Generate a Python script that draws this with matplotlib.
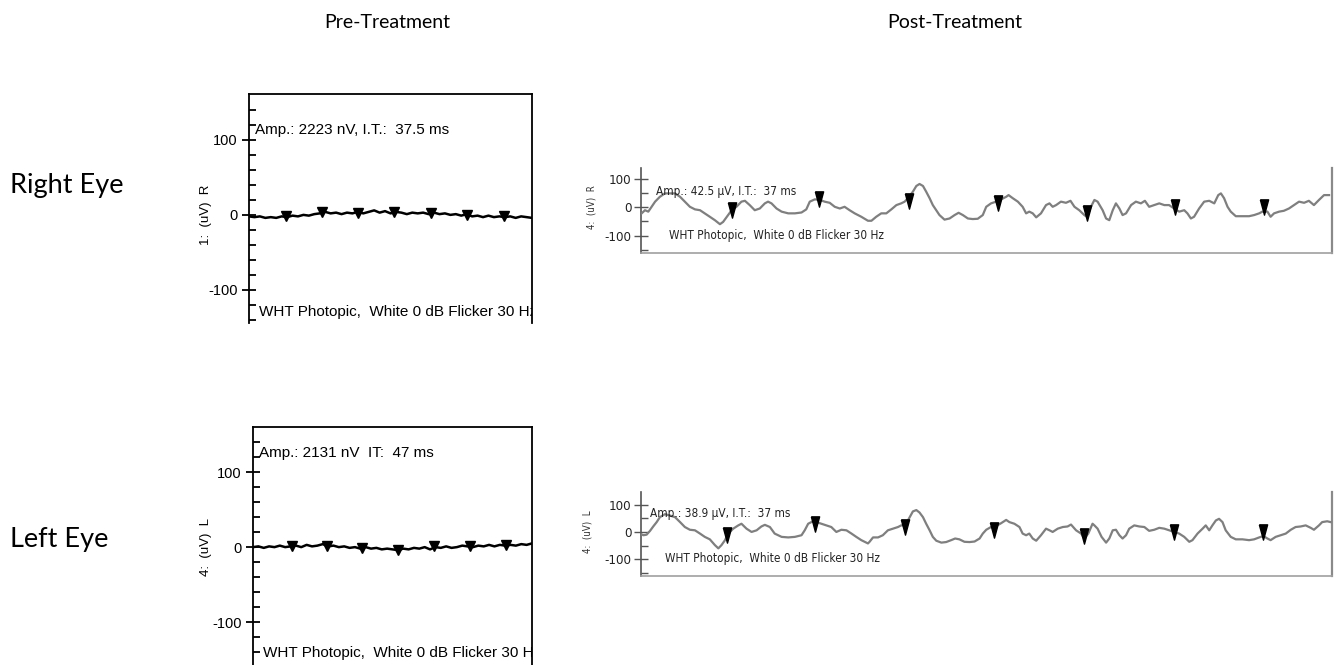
"""Flicker ERG traces, pre vs post treatment, right and left eye."""
import matplotlib
matplotlib.use("Agg")
import matplotlib.pyplot as plt
from matplotlib.ticker import FixedLocator

W_PX, H_PX = 1336, 665

plt.rcParams.update({
    "font.family": ["Liberation Sans", "DejaVu Sans"],
    "axes.linewidth": 1.2,
    "axes.unicode_minus": False,
})

_NARROW = ["DejaVu Sans"]
_TITLE  = ["Lato", "DejaVu Sans"]
_TRACE  = "#7f7f7f"

# ---- pre-treatment (values in uV, time in ms) ----
pre_ms = [0, 5, 10, 15, 20, 25, 30, 35, 40, 45, 50, 55, 60, 65, 70, 75, 80, 85,
          90, 95, 100, 105, 110, 115, 120, 125, 130, 135, 140, 145, 150, 155,
          160, 165, 170, 175, 180, 185, 190, 195, 200, 205, 210, 215, 220, 225,
          230, 235, 240, 245, 250, 255, 260]
pre_right_uv = [-2, -3, -2, -4, -3, -4, -2, -3, -1, -2, 0, -1, 1, 2, 4, 2, 3, 1,
                3, 2, 4, 2, 4, 6, 3, 5, 2, 4, 3, 1, 3, 2, 3, 1, 3, 1, 2, 0, 1,
                -1, 1, -2, -1, -3, -1, -3, -2, -3, -2, -4, -2, -3, -4]
pre_left_uv = [0, 1, -1, 1, 0, 2, 0, 1, 2, 0, 3, 1, 2, 4, 1, 2, 0, 1, -1, 0,
               -2, 0, -2, -1, -3, -2, -3, -4, -2, -3, -1, -2, 0, -3, 0, -1, 1,
               -1, 0, 2, 1, 0, 2, 1, 3, 1, 3, 2, 3, 2, 4, 3, 5]
pre_right_mk_ms = [34.0, 66.8, 100.4, 133.5, 166.9, 200.0, 234.3]
pre_right_mk_uv = [-1, 4, 3, 4, 3, 0, -2]
pre_left_mk_ms  = [36.0, 68.6, 101.9, 135.4, 169.0, 202.2, 235.8]
pre_left_mk_uv  = [1, 2, -1, -4, 1, 2, 3]

# ---- post-treatment ----
post_right_ms = [0.25, 1.5, 2.75, 4.0, 5.3, 7.1, 9.0, 10.9, 12.8, 14.7,
                 16.5, 18.4, 20.3, 22.2, 24.0, 25.9, 27.8, 29.7, 30.9, 32.8,
                 34.1, 35.9, 37.8, 39.1, 40.9, 42.8, 44.7, 46.6, 47.8, 49.1,
                 51.0, 52.9, 55.4, 57.9, 60.4, 62.2, 63.5, 65.4, 67.3, 69.1,
                 71.0, 72.9, 74.8, 76.6, 78.5, 80.4, 82.9, 85.4,
                 86.7, 88.5, 90.4, 92.3, 94.2, 96.1, 97.9, 99.2, 100.4, 102.3,
                 103.6, 104.8, 106.1, 107.3, 108.6, 109.8, 111.1, 112.3, 114.2, 116.1,
                 118.0, 119.5, 121.1, 123.0, 124.8, 126.7, 128.6, 129.9, 131.7, 133.6,
                 135.5, 137.4, 138.3, 139.9, 141.8, 143.6, 144.9, 146.1, 147.4, 148.7,
                 150.5, 152.4, 153.7, 154.9, 156.2, 158.0, 159.9, 161.6, 163.1, 164.9,
                 166.8, 167.8, 169.3,
                 170.6, 171.8, 173.7, 175.0, 176.2, 177.5, 178.7, 180.0, 181.2, 182.5,
                 184.4, 186.2, 188.1, 189.6, 191.2, 193.1, 195.0, 196.9, 198.7, 200.6,
                 202.5, 204.4, 205.6, 206.9, 208.1, 210.0, 211.9, 213.8, 215.7, 217.2,
                 218.2, 219.4, 220.7, 221.9, 223.8, 226.3, 228.8, 230.7, 232.6, 233.8,
                 235.7, 236.9, 238.2, 240.1, 241.9, 243.8, 245.7, 247.6, 249.5, 251.3,
                 253.2, 255.1, 257.0, 258.9]
post_right_uv = [-22, -11, -16, 1, 19, 36, 48, 48, 48, 36,
                 19, 1, -8, -11, -22, -34, -46, -60, -52, -28,
                 -11, 1, 19, 22, 7, -11, -5, 13, 19, 13,
                 -5, -16, -22, -22, -19, -8, 19, 27, 25, 19,
                 15, 1, -5, 1, -11, -22, -34, -48,
                 -48, -34, -22, -22, -8, 7, 13, 19, 31, 54,
                 74, 81, 74, 54, 31, 7, -11, -28, -44, -40,
                 -28, -20, -28, -40, -42, -41, -28, 1, 13, 19,
                 27, 36, 42, 31, 19, 1, -22, -16, -22, -36,
                 -22, 7, 13, 1, 7, 19, 15, 22, 1, -11,
                 -28, -34, 1,
                 25, 19, -11, -40, -46, -11, 13, -5, -28, -22,
                 7, 19, 13, 22, 1, 7, 13, 7, 7, -5,
                 -16, -11, -22, -40, -34, -5, 19, 22, 13, 42,
                 48, 31, 1, -16, -32, -32, -32, -28, -22, -16,
                 -16, -34, -22, -16, -13, -5, 7, 19, 15, 22,
                 7, 25, 42, 42]
post_right_mk_ms = [34.1, 67.0, 100.8, 134.2, 167.8, 201.0, 234.4]
post_right_mk_uv = [-11, 27, 22, 13, -20, 1, -1]

post_left_ms = [0, 0.9, 2.1, 3.4, 4.6, 5.9, 7.1, 9.0, 10.9, 12.8,
                14.7, 16.5, 18.4, 20.3, 22.2, 24.0, 25.9, 27.8, 29.1, 30.3,
                31.6, 32.8, 34.7, 36.6, 37.8, 39.7, 41.6, 43.5, 45.3, 46.6,
                48.5, 50.3, 52.9, 55.4, 57.9, 60.4, 61.6, 62.9, 64.7, 66.0,
                67.9, 69.8, 71.6, 73.5, 75.4, 77.3, 79.2, 81.0, 82.9, 85.4,
                86.0, 87.3, 89.2, 91.0, 92.9, 94.8, 96.7, 97.9, 99.4, 101.1,
                102.3, 103.6, 104.8, 106.1, 107.3, 108.6, 109.8, 111.1, 113.0, 114.8,
                116.7, 118.2, 119.8, 121.7, 123.6, 125.5, 127.4, 128.6, 129.9, 131.7,
                133.0, 135.5, 137.4, 138.6, 140.5, 142.4, 143.6, 144.9, 146.1, 147.4,
                148.7, 150.5, 152.4, 153.7, 154.9, 156.8, 158.7, 160.5, 161.8, 163.7,
                165.6, 166.8, 168.3, 169.9,
                170.6, 171.8, 173.3, 175.0, 176.2, 177.5, 178.7, 180.0, 181.2, 182.5,
                183.7, 185.6, 187.5, 189.4, 191.2, 193.1, 195.0, 196.9, 198.7, 200.6,
                202.5, 204.4, 206.3, 207.5, 209.4, 211.3, 212.5, 213.8, 215.0, 216.3,
                217.5, 218.8, 220.0, 221.9, 223.8, 226.3, 228.8, 230.7, 232.6, 234.2,
                235.7, 236.9, 238.8, 240.7, 242.6, 244.5, 246.3, 248.2, 250.1, 252.0,
                253.2, 255.1, 256.3, 258.2, 259.5]
post_left_uv = [-8, -12, -10, 4, 20, 36, 54, 65, 60, 54,
                36, 18, 8, 6, -6, -18, -27, -48, -60, -48,
                -30, -6, 12, 24, 30, 12, 0, 6, 20, 26,
                18, -6, -18, -20, -18, -12, 6, 30, 39, 36,
                30, 24, 18, 0, 8, 6, -6, -18, -30, -42,
                -36, -20, -20, -12, 6, 12, 18, 24, 24, 54,
                75, 80, 71, 54, 30, 6, -18, -32, -39, -37,
                -30, -24, -27, -36, -37, -35, -24, -6, 8, 18,
                18, 32, 44, 36, 30, 18, -6, -12, -6, -24,
                -32, -12, 12, 6, 0, 12, 18, 20, 27, 6,
                -6, -24, -6, 30,
                24, 12, -18, -39, -24, 6, 8, -12, -24, -12,
                12, 24, 20, 18, 4, 8, 15, 12, 6, 0,
                -6, -18, -36, -30, -6, 12, 24, 6, 24, 42,
                48, 36, 6, -18, -27, -27, -30, -27, -20, -15,
                -24, -30, -18, -12, -6, 8, 18, 20, 24, 15,
                8, 24, 36, 39, 36]
post_left_mk_ms = [32.2, 65.6, 99.4, 133.0, 166.8, 200.6, 234.2]
post_left_mk_uv = [-10, 30, 18, 8, -15, 0, 0]

# tall narrow down-pointing triangle used by the post-treatment recorder
_TALL_V = [(-0.27, 0.5), (0.27, 0.5), (0.0, -0.5), (-0.27, 0.5)]


def _box(left, top, right, bottom):
    return [left / W_PX, 1 - bottom / H_PX, (right - left) / W_PX, (bottom - top) / H_PX]


def _pre_axes(fig, box, ylim, t, uv, mk_t, mk_uv, amp, ylab, ylab_xy):
    ax = fig.add_axes(box)
    ax.plot(t, uv, color="black", lw=1.8, zorder=3)
    ax.plot(mk_t, mk_uv, ls="none", marker="v", ms=6.5, color="black", zorder=4)
    ax.set_xlim(0, 260)
    ax.set_ylim(*ylim)
    ax.spines["bottom"].set_visible(False)
    for s in ("top", "left", "right"):
        ax.spines[s].set_linewidth(1.3)
    ax.set_xticks([])
    ax.yaxis.set_major_locator(FixedLocator([-100, 0, 100]))
    ax.yaxis.set_minor_locator(FixedLocator([-140, -120, -80, -60, -40, -20,
                                             20, 40, 60, 80, 120, 140]))
    ax.tick_params(axis="y", which="major", direction="inout", length=10, width=1.3,
                   labelsize=10.5, pad=3)
    ax.tick_params(axis="y", which="minor", direction="in", length=5, width=1.3)
    ax.text(0.022, amp[1], amp[0], transform=ax.transAxes, fontsize=11,
            ha="left", va="center")
    ax.text(0.035, amp[2], "WHT Photopic,  White 0 dB Flicker 30 Hz",
            transform=ax.transAxes, fontsize=11, ha="left", va="center", clip_on=True)
    fig.text(ylab_xy[0] / W_PX, 1 - ylab_xy[1] / H_PX, ylab, rotation=90,
             ha="center", va="center", fontsize=9.5)
    return ax


def _post_axes(fig, box, ylim, t, uv, mk_t, mk_uv, amp, amp_xy, wht_xy, ylab, ylab_xy):
    ax = fig.add_axes(box)
    ax.plot(t, uv, color=_TRACE, lw=1.6, zorder=3)
    ax.plot(mk_t, mk_uv, ls="none", marker=_TALL_V, ms=11, color="black", zorder=4)
    ax.set_xlim(0, 260)
    ax.set_ylim(*ylim)
    ax.spines["top"].set_visible(False)
    ax.spines["left"].set_color("#555555")
    ax.spines["bottom"].set_color("#a0a0a0")
    ax.spines["right"].set_color("#8a8a8a")
    ax.spines["right"].set_linewidth(1.6)
    ax.set_xticks([])
    ax.yaxis.set_major_locator(FixedLocator([-100, 0, 100]))
    ax.yaxis.set_minor_locator(FixedLocator([-150, -50, 50]))
    ax.tick_params(axis="y", which="major", direction="inout", length=10, width=1.0,
                   color="#555555", labelsize=9.5, pad=2)
    ax.tick_params(axis="y", which="minor", direction="in", length=5, width=1.0,
                   color="#555555")
    for lab in ax.get_yticklabels():
        lab.set_family(_NARROW)
        lab.set_stretch("condensed")
        lab.set_color("#222222")
    ax.text(amp_xy[0], amp_xy[1], amp, transform=ax.transAxes, family=_NARROW,
            fontstretch="condensed", fontsize=8.5, ha="left", va="center",
            color="#222222")
    ax.text(wht_xy[0], wht_xy[1], "WHT Photopic,  White 0 dB Flicker 30 Hz",
            transform=ax.transAxes, family=_NARROW, fontstretch="condensed",
            fontsize=8.5, ha="left", va="center", color="#222222")
    fig.text(ylab_xy[0] / W_PX, 1 - ylab_xy[1] / H_PX, ylab, rotation=90,
             ha="center", va="center", fontsize=7, family=_NARROW,
             fontstretch="condensed", color="#333333")
    return ax


fig = plt.figure(figsize=(W_PX / 100, H_PX / 100), dpi=100)

_pre_axes(fig, _box(249, 94, 532, 323), (-144, 161), pre_ms, pre_right_uv,
          pre_right_mk_ms, pre_right_mk_uv,
          ("Amp.: 2223 nV, I.T.:  37.5 ms", 0.843, 0.048), "1:  (uV)  R", (206, 215))
_pre_axes(fig, _box(253, 427, 532, 665), (-157, 160), pre_ms, pre_left_uv,
          pre_left_mk_ms, pre_left_mk_uv,
          ("Amp.: 2131 nV  IT:  47 ms", 0.891, 0.05), "4:  (uV)  L", (206, 547))

_post_axes(fig, _box(641, 168, 1332, 253), (-161, 137), post_right_ms, post_right_uv,
           post_right_mk_ms, post_right_mk_uv,
           "Amp.: 42.5 µV, I.T.:  37 ms", (0.022, 0.72), (0.04, 0.2),
           "4:  (uV)  R", (592, 207))
_post_axes(fig, _box(641, 492, 1332, 576), (-161, 146), post_left_ms, post_left_uv,
           post_left_mk_ms, post_left_mk_uv,
           "Amp.: 38.9 µV, I.T.:  37 ms", (0.013, 0.75), (0.035, 0.214),
           "4:  (uV)  L", (587, 532))

fig.text(387 / W_PX, 1 - 22 / H_PX, "Pre-Treatment", family=_TITLE, fontsize=14,
         ha="center", va="center")
fig.text(955 / W_PX, 1 - 22 / H_PX, "Post-Treatment", family=_TITLE, fontsize=14,
         ha="center", va="center")
fig.text(10 / W_PX, 1 - 186 / H_PX, "Right Eye", family=_TITLE, fontsize=19.5,
         ha="left", va="center")
fig.text(10 / W_PX, 1 - 540 / H_PX, "Left Eye", family=_TITLE, fontsize=19.5,
         ha="left", va="center")

fig.savefig("out.png", dpi=100)
